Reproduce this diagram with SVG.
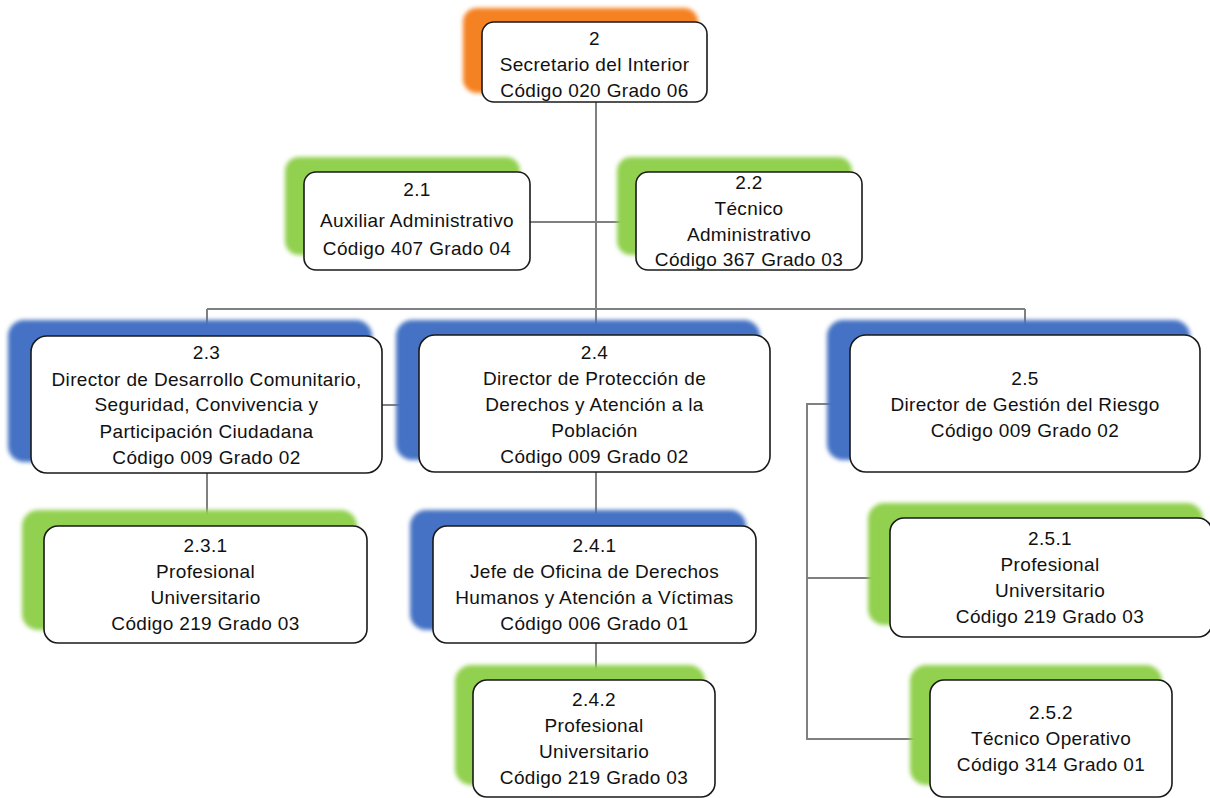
<svg xmlns="http://www.w3.org/2000/svg" width="1210" height="798" viewBox="0 0 1210 798">
<style>
.box{fill:#fff;stroke:#1a1a1a;stroke-width:1.6}
.sh{filter:url(#blur)}
.o{fill:#F58220}
.g{fill:#92D050}
.b{fill:#4472C4}
.t{font-family:"Liberation Sans",Arial,sans-serif;font-size:19px;letter-spacing:0.35px;fill:#111;text-anchor:middle}
.c{stroke:#808080;stroke-width:2;fill:none}
</style>
<defs>
<filter id="blur" x="-10%" y="-10%" width="120%" height="120%"><feGaussianBlur stdDeviation="2.2"/></filter>
</defs>
<g id="connectors">
<path class="c" d="M596 102V309M530 222H636M207 309H1025M207 309V337M596 309V335M1025 309V335M382 405H419M207 473V526M596 472V526M596 643V680M850 404H807V739H930M807 578H890"/>
</g>
<g id="n2">
<rect class="sh o" x="463" y="8" width="235" height="85" rx="14"/>
<rect class="box" x="482" y="22" width="225" height="80" rx="12"/>
<text class="t"><tspan x="594.5" y="45">2</tspan><tspan x="594.5" y="71">Secretario del Interior</tspan><tspan x="594.5" y="97">Código 020 Grado 06</tspan></text>
</g>
<g id="n2_1">
<rect class="sh g" x="285" y="157" width="235" height="98" rx="14"/>
<rect class="box" x="304" y="172" width="226" height="98" rx="12"/>
<text class="t"><tspan x="417" y="196">2.1</tspan><tspan x="417" y="227">Auxiliar Administrativo</tspan><tspan x="417" y="255">Código 407 Grado 04</tspan></text>
</g>
<g id="n2_2">
<rect class="sh g" x="617" y="157" width="235" height="98" rx="14"/>
<rect class="box" x="636" y="172" width="226" height="98" rx="12"/>
<text class="t"><tspan x="749" y="189">2.2</tspan><tspan x="749" y="215">Técnico</tspan><tspan x="749" y="241">Administrativo</tspan><tspan x="749" y="266">Código 367 Grado 03</tspan></text>
</g>
<g id="n2_3">
<rect class="sh b" x="8" y="320" width="364" height="142" rx="16"/>
<rect class="box" x="31" y="336" width="351" height="137" rx="16"/>
<text class="t"><tspan x="206.5" y="359">2.3</tspan><tspan x="206.5" y="386">Director de Desarrollo Comunitario,</tspan><tspan x="206.5" y="411">Seguridad, Convivencia y</tspan><tspan x="206.5" y="438">Participación Ciudadana</tspan><tspan x="206.5" y="464">Código 009 Grado 02</tspan></text>
</g>
<g id="n2_4">
<rect class="sh b" x="396" y="320" width="364" height="140" rx="16"/>
<rect class="box" x="419" y="335" width="351" height="137" rx="16"/>
<text class="t"><tspan x="594.5" y="359">2.4</tspan><tspan x="594.5" y="385">Director de Protección de</tspan><tspan x="594.5" y="411">Derechos y Atención a la</tspan><tspan x="594.5" y="437">Población</tspan><tspan x="594.5" y="463">Código 009 Grado 02</tspan></text>
</g>
<g id="n2_5">
<rect class="sh b" x="827" y="320" width="363" height="140" rx="16"/>
<rect class="box" x="850" y="335" width="350" height="137" rx="16"/>
<text class="t"><tspan x="1025" y="385">2.5</tspan><tspan x="1025" y="411">Director de Gestión del Riesgo</tspan><tspan x="1025" y="437">Código 009 Grado 02</tspan></text>
</g>
<g id="n2_3_1">
<rect class="sh g" x="22" y="510" width="335" height="120" rx="16"/>
<rect class="box" x="44" y="526" width="323" height="117" rx="14"/>
<text class="t"><tspan x="205.5" y="552">2.3.1</tspan><tspan x="205.5" y="578">Profesional</tspan><tspan x="205.5" y="604">Universitario</tspan><tspan x="205.5" y="630">Código 219 Grado 03</tspan></text>
</g>
<g id="n2_4_1">
<rect class="sh b" x="410" y="510" width="336" height="120" rx="16"/>
<rect class="box" x="433" y="526" width="323" height="117" rx="14"/>
<text class="t"><tspan x="594.5" y="552">2.4.1</tspan><tspan x="594.5" y="578">Jefe de Oficina de Derechos</tspan><tspan x="594.5" y="604">Humanos y Atención a Víctimas</tspan><tspan x="594.5" y="630">Código 006 Grado 01</tspan></text>
</g>
<g id="n2_4_2">
<rect class="sh g" x="455" y="665" width="250" height="120" rx="16"/>
<rect class="box" x="473" y="680" width="242" height="117" rx="14"/>
<text class="t"><tspan x="594" y="706">2.4.2</tspan><tspan x="594" y="732">Profesional</tspan><tspan x="594" y="758">Universitario</tspan><tspan x="594" y="784">Código 219 Grado 03</tspan></text>
</g>
<g id="n2_5_1">
<rect class="sh g" x="868" y="503" width="335" height="122" rx="16"/>
<rect class="box" x="890" y="518" width="322" height="119" rx="14"/>
<text class="t"><tspan x="1050" y="545">2.5.1</tspan><tspan x="1050" y="571">Profesional</tspan><tspan x="1050" y="597">Universitario</tspan><tspan x="1050" y="623">Código 219 Grado 03</tspan></text>
</g>
<g id="n2_5_2">
<rect class="sh g" x="910" y="665" width="252" height="120" rx="16"/>
<rect class="box" x="930" y="680" width="242" height="117" rx="14"/>
<text class="t"><tspan x="1051" y="719">2.5.2</tspan><tspan x="1051" y="745">Técnico Operativo</tspan><tspan x="1051" y="771">Código 314 Grado 01</tspan></text>
</g>
</svg>
